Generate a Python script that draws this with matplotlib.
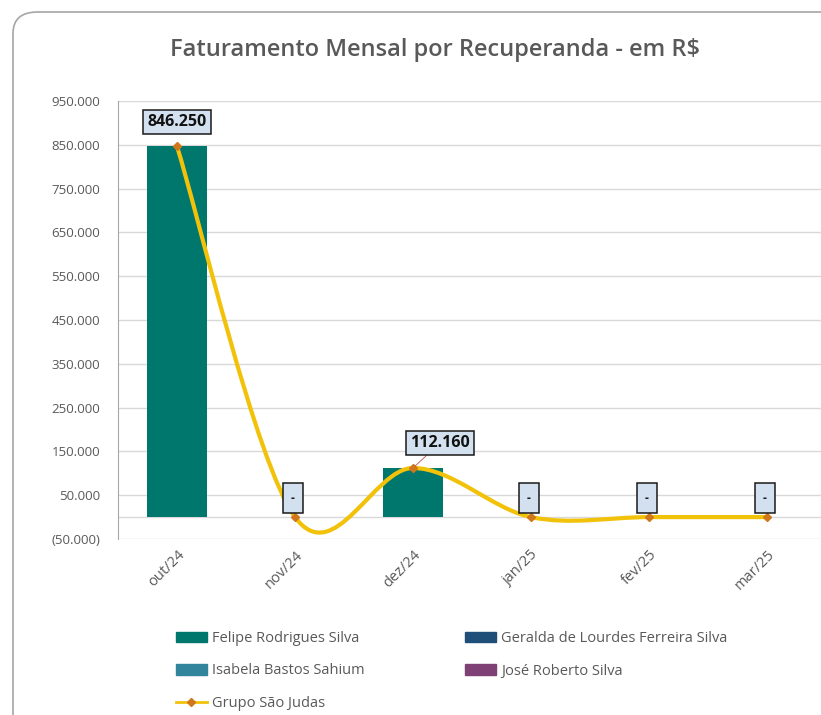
import matplotlib
matplotlib.use("Agg")
import matplotlib.pyplot as plt
import numpy as np
from matplotlib.path import Path
from matplotlib.patches import PathPatch, FancyBboxPatch, Patch
from matplotlib.lines import Line2D
from matplotlib.ticker import FuncFormatter, FixedLocator

plt.rcParams['font.family'] = ['Open Sans', 'DejaVu Sans']

# ---- data ----
months = ["out/24", "nov/24", "dez/24", "jan/25", "fev/25", "mar/25"]
felipe = [846250, 0, 112160, 0, 0, 0]
geralda = [0, 0, 0, 0, 0, 0]
isabela = [0, 0, 0, 0, 0, 0]
jose = [0, 0, 0, 0, 0, 0]
grupo = [846250, 0, 112160, 0, 0, 0]
label_texts = ["846.250", "-", "112.160", "-", "-", "-"]
yticks = [-50000, 50000, 150000, 250000, 350000, 450000, 550000, 650000, 750000, 850000, 950000]

c_felipe = "#00776C"
c_geralda = "#1F4E79"
c_isabela = "#31849B"
c_jose = "#7F4175"
c_line = "#F2C20A"
c_marker = "#D0771C"
gray_txt = "#595959"

W, H = 821, 715
fig = plt.figure(figsize=(W / 100, H / 100), dpi=100)

# outer rounded border
border = FancyBboxPatch((13 / W, -20 / H), (W + 30) / W, (H - 12 + 20) / H,
                        boxstyle="round,pad=0,rounding_size=0.03",
                        transform=fig.transFigure, facecolor="none",
                        edgecolor="#A6A6A6", linewidth=1.2, zorder=-1)
fig.patches.append(border)

ax = fig.add_axes([118 / W, 1 - 539 / H, 708 / W, (539 - 101) / H])
ax.set_facecolor("none")

x = np.arange(len(months))
bottom = np.zeros(len(months))
for vals, col in [(felipe, c_felipe), (geralda, c_geralda), (isabela, c_isabela), (jose, c_jose)]:
    ax.bar(x, vals, width=0.51, bottom=bottom, color=col, zorder=2)
    bottom += np.array(vals)

# smoothed line (Catmull-Rom style bezier, as Excel smoothing)
xs = x.astype(float)
ys = np.array(grupo, dtype=float)
n = len(xs)
verts = [(xs[0], ys[0])]
codes = [Path.MOVETO]
for i in range(n - 1):
    p0 = i - 1 if i > 0 else i
    p3 = i + 2 if i + 2 < n else i + 1
    c1 = (xs[i] + (xs[i + 1] - xs[p0]) / 6, ys[i] + (ys[i + 1] - ys[p0]) / 6)
    c2 = (xs[i + 1] - (xs[p3] - xs[i]) / 6, ys[i + 1] - (ys[p3] - ys[i]) / 6)
    verts += [c1, c2, (xs[i + 1], ys[i + 1])]
    codes += [Path.CURVE4] * 3
ax.add_patch(PathPatch(Path(verts, codes), facecolor="none", edgecolor=c_line,
                       linewidth=3.0, zorder=3, capstyle="round"))
ax.plot(xs, ys, linestyle="none", marker="D", markersize=4.5, color=c_marker, zorder=4)

# data labels
box_style = dict(boxstyle="square,pad=0.25", facecolor="#D3E0EF", edgecolor="#1A1A1A", linewidth=1.1)
dash_style = dict(boxstyle="square,pad=0.7", facecolor="#D3E0EF", edgecolor="#1A1A1A", linewidth=1.1)
for i, (xv, yv, t) in enumerate(zip(xs, ys, label_texts)):
    if t == "-":
        ax.annotate(t, (xv, yv), xytext=(-2, 19), textcoords="offset pixels",
                    ha="center", va="center", fontsize=8.5, fontweight="bold",
                    color="#1A1A1A", bbox=dash_style, zorder=5)
    elif i == 0:
        ax.annotate(t, (xv, yv), xytext=(0, 24), textcoords="offset pixels",
                    ha="center", va="center", fontsize=11.5, fontweight="bold",
                    color="#111111", bbox=box_style, zorder=5)
    else:
        ax.annotate(t, (xv, yv), xytext=(27, 25), textcoords="offset pixels",
                    ha="center", va="center", fontsize=11.5, fontweight="bold",
                    color="#111111", bbox=box_style, zorder=5,
                    arrowprops=dict(arrowstyle="-", color="#C0504D", lw=0.6,
                                    shrinkA=0, shrinkB=2))

ax.set_xlim(-0.5, len(months) - 0.5)
ax.set_ylim(-50000, 950000)
ax.yaxis.set_major_locator(FixedLocator(yticks))


def fmt(v, pos):
    s = f"{abs(int(round(v))):,}".replace(",", ".")
    return f"({s})" if v < 0 else s


ax.yaxis.set_major_formatter(FuncFormatter(fmt))
ax.grid(axis="y", color="#D9D9D9", linewidth=1.0, zorder=0)
ax.axhline(0, color="#D9D9D9", linewidth=1.0, zorder=1)
for s in ["top", "right", "bottom"]:
    ax.spines[s].set_visible(False)
ax.spines["left"].set_color("#A6A6A6")
ax.tick_params(axis="y", length=0, pad=13, labelsize=9.5, labelcolor=gray_txt)
ax.tick_params(axis="x", length=0, pad=6, labelsize=10.5, labelcolor=gray_txt)
ax.set_xticks(x)
ax.set_xticklabels(months, rotation=45, ha="right", va="top", rotation_mode="anchor")

fig.text(435 / W, 1 - 50 / H, "Faturamento Mensal por Recuperanda - em R$",
         ha="center", va="center", fontsize=17, fontweight="semibold", color=gray_txt)

handles = [Patch(color=c_felipe), Patch(color=c_isabela),
           Line2D([], [], color=c_line, lw=2, marker="D", markersize=4,
                  markerfacecolor=c_marker, markeredgecolor=c_marker),
           Patch(color=c_geralda), Patch(color=c_jose)]
labels = ["Felipe Rodrigues Silva", "Isabela Bastos Sahium", "Grupo São Judas",
          "Geralda de Lourdes Ferreira Silva", "José Roberto Silva"]
leg = fig.legend(handles, labels, ncol=2, loc="upper left",
                 bbox_to_anchor=(176 / W, 1 - 631 / H), frameon=False,
                 fontsize=10.5, labelcolor=gray_txt, handlelength=2.1,
                 handleheight=0.7, handletextpad=0.35, labelspacing=1.2,
                 columnspacing=6.9, borderaxespad=0, borderpad=0)

fig.savefig("out.png", dpi=100)
